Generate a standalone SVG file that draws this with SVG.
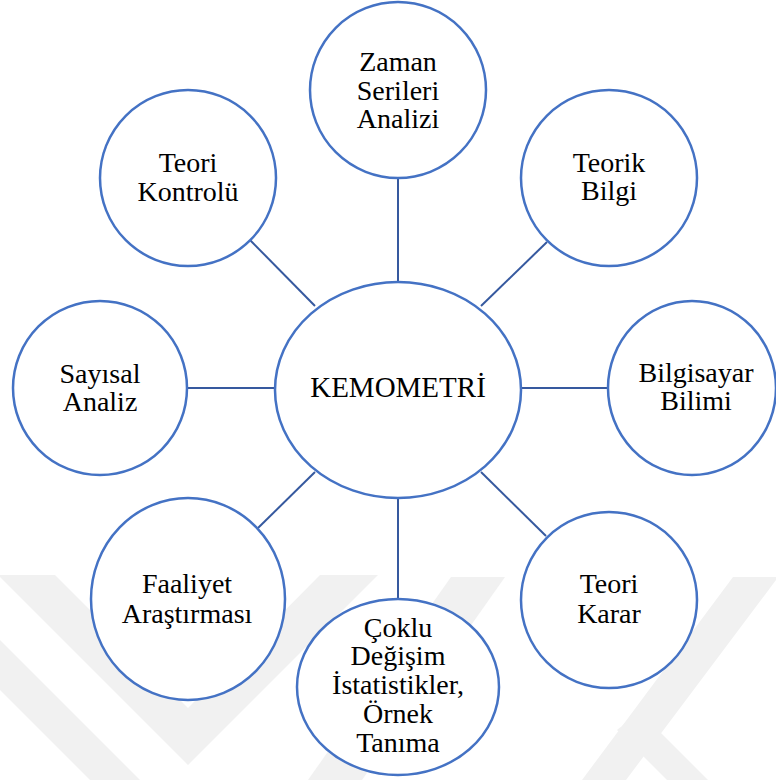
<svg xmlns="http://www.w3.org/2000/svg" width="776" height="780" viewBox="0 0 776 780">
  <style>
    .node { fill: #ffffff; stroke: #4472c4; stroke-width: 2.5; }
    .conn { stroke: #36599f; stroke-width: 2; fill: none; }
    .lbl { font-family: "Liberation Serif", "Times New Roman", serif; font-size: 28px; fill: #000000; text-anchor: middle; }
    .wm { fill: #f1f1f1; }
  </style>
  <rect width="776" height="780" fill="#ffffff"/>
  <g id="watermark">
    <polygon class="wm" points="0,575 55,575 188,708 320,575 378,575 188,765 0,577"/>
    <polygon class="wm" points="0,640 0,690 90,780 140,780"/>
    <polygon class="wm" points="451,577 505,577 362,780 308,780"/>
    <polygon class="wm" points="733,577 776,577 776,580 626,780 582,780"/>
    <polygon class="wm" points="617,730 640,712 708,780 667,780"/>
  </g>
  <g id="connectors">
    <line class="conn" x1="398" y1="178" x2="398" y2="282"/>
    <line class="conn" x1="250" y1="240" x2="315" y2="306"/>
    <line class="conn" x1="547" y1="242" x2="481" y2="306"/>
    <line class="conn" x1="187" y1="388" x2="275" y2="388"/>
    <line class="conn" x1="521" y1="388" x2="608" y2="388"/>
    <line class="conn" x1="315" y1="472" x2="258" y2="528"/>
    <line class="conn" x1="481" y1="472" x2="546" y2="536"/>
    <line class="conn" x1="398" y1="498" x2="398" y2="599"/>
  </g>
  <g id="kemometri">
    <ellipse class="node" cx="398" cy="390" rx="123" ry="108"/>
    <text class="lbl" x="398" y="397" style="font-size:29px">KEMOMETRİ</text>
  </g>
  <g id="zaman-serileri">
    <circle class="node" cx="398" cy="90" r="88"/>
    <text class="lbl" x="398" y="71">Zaman</text>
    <text class="lbl" x="398" y="99.5">Serileri</text>
    <text class="lbl" x="398" y="128">Analizi</text>
  </g>
  <g id="teori-kontrolu">
    <circle class="node" cx="188" cy="178" r="88"/>
    <text class="lbl" x="188" y="172">Teori</text>
    <text class="lbl" x="188" y="201">Kontrolü</text>
  </g>
  <g id="teorik-bilgi">
    <circle class="node" cx="609" cy="178" r="88"/>
    <text class="lbl" x="609" y="172">Teorik</text>
    <text class="lbl" x="609" y="200">Bilgi</text>
  </g>
  <g id="sayisal-analiz">
    <circle class="node" cx="100" cy="388" r="87"/>
    <text class="lbl" x="100" y="383">Sayısal</text>
    <text class="lbl" x="100" y="411">Analiz</text>
  </g>
  <g id="bilgisayar-bilimi">
    <ellipse class="node" cx="692" cy="388" rx="84" ry="87"/>
    <text class="lbl" x="696" y="382">Bilgisayar</text>
    <text class="lbl" x="696" y="410">Bilimi</text>
  </g>
  <g id="faaliyet-arastirmasi">
    <ellipse class="node" cx="188" cy="599" rx="97" ry="101"/>
    <text class="lbl" x="187" y="593">Faaliyet</text>
    <text class="lbl" x="187" y="623">Araştırması</text>
  </g>
  <g id="teori-karar">
    <circle class="node" cx="609" cy="600" r="88"/>
    <text class="lbl" x="609" y="593">Teori</text>
    <text class="lbl" x="609" y="623">Karar</text>
  </g>
  <g id="coklu-degisim">
    <ellipse class="node" cx="398" cy="687" rx="101" ry="88"/>
    <text class="lbl" x="398" y="637">Çoklu</text>
    <text class="lbl" x="398" y="665">Değişim</text>
    <text class="lbl" x="398" y="694">İstatistikler,</text>
    <text class="lbl" x="398" y="723">Örnek</text>
    <text class="lbl" x="398" y="752">Tanıma</text>
  </g>
</svg>
